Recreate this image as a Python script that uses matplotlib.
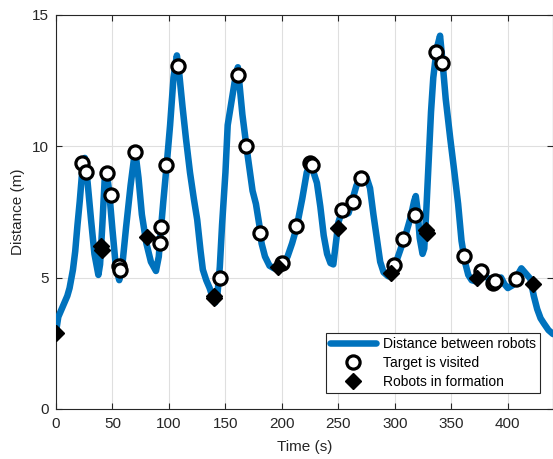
import numpy as np
import matplotlib
matplotlib.use('Agg')
import matplotlib.pyplot as plt

plt.rcParams['font.family'] = ['Liberation Sans', 'DejaVu Sans']

# distance between robots
t_dist = [0, 2, 5, 8, 10, 12, 15, 17, 19, 21, 23.5, 25.5, 28, 31, 34, 37.5,
          39, 41, 43.4, 45, 47, 50, 53, 56, 59, 62, 66, 70, 73, 76, 80, 84,
          88.5, 91, 92, 93, 95, 98, 101, 104, 107, 109, 112, 115, 118.6, 122,
          125, 128, 130, 133, 136, 139, 141, 143, 145, 147, 150, 152, 155,
          158, 161, 163, 165, 169, 174, 177, 180, 182, 185, 189, 193, 197,
          201, 205, 209, 213, 218, 222, 225, 228, 231, 234, 237, 240, 243,
          245.5, 247.5, 250, 253, 256, 259, 262, 266, 270, 275, 278, 281,
          284, 287, 290, 294, 298, 302, 306, 310, 314, 317, 318.5, 320, 322,
          324.5, 326, 328, 330, 332, 334, 337, 340, 342, 345, 349, 353, 356,
          359, 362, 365, 368, 372, 376, 380, 385, 390, 394, 397, 400, 404,
          408, 412, 416, 420, 423, 426, 429, 432, 436, 440]
d_dist = [2.93, 3.5, 3.8, 4.1, 4.3, 4.6, 5.3, 6.0, 7.0, 7.9, 9.2, 9.55, 8.6,
          7.2, 5.9, 5.1, 5.5, 7.0, 9.0, 8.95, 8.3, 6.8, 5.4, 4.9, 5.6, 6.9,
          8.5, 9.85, 8.8, 7.4, 6.3, 5.6, 5.25, 5.8, 6.4, 6.9, 7.9, 9.3, 10.8,
          12.6, 13.45, 12.8, 11.5, 10.3, 9.0, 8.0, 7.2, 6.0, 5.3, 4.9, 4.6,
          4.2, 4.05, 4.4, 5.4, 7.0, 9.0, 10.8, 11.6, 12.4, 13.0, 12.1, 11.2,
          9.85, 8.3, 7.8, 7.0, 6.3, 5.8, 5.45, 5.35, 5.35, 5.5, 5.8, 6.3, 6.9,
          8.0, 9.0, 9.35, 9.0, 8.6, 7.7, 6.6, 5.9, 5.55, 5.5, 6.2, 7.1, 7.5,
          7.4, 7.45, 7.9, 8.5, 8.8, 8.8, 8.4, 7.4, 6.5, 5.6, 5.2, 5.05, 5.3,
          5.7, 6.2, 6.7, 7.3, 7.9, 8.1, 7.6, 6.5, 5.9, 6.1, 7.7, 9.5, 11.3,
          12.6, 13.7, 14.2, 13.3, 11.8, 10.3, 8.9, 7.8, 6.4, 5.6, 5.1, 4.9,
          4.85, 5.05, 5.05, 4.9, 4.95, 5.0, 4.75, 4.6, 4.7, 5.05, 5.35, 5.15,
          4.95, 4.3, 3.8, 3.45, 3.25, 3.0, 2.85]

# targets visited
t_target = [23.1, 26.3, 45.3, 48.7, 55.8, 56.6, 70, 92, 93, 97.5, 108, 145.5,
            161, 168, 180.5, 200, 212.4, 224.8, 226.5, 253, 263, 270, 299,
            307, 317.7, 336, 342, 361, 376, 386.6, 389, 407]
d_target = [9.35, 9.0, 8.97, 8.14, 5.45, 5.3, 9.77, 6.3, 6.92, 9.28, 13.04,
            5.0, 12.7, 10.0, 6.7, 5.55, 6.96, 9.35, 9.3, 7.57, 7.87, 8.78,
            5.47, 6.46, 7.38, 13.57, 13.16, 5.82, 5.25, 4.79, 4.87, 4.94]

# robots in formation
t_form = [0, 39.8, 40.7, 80.5, 139.5, 140.3, 196.5, 249.6, 297, 327.5, 328.3,
          372.6, 422]
d_form = [2.9, 6.2, 6.05, 6.55, 4.3, 4.22, 5.4, 6.88, 5.17, 6.8, 6.7,
          4.98, 4.75]

fig = plt.figure(figsize=(5.53, 4.59), dpi=100)
ax = fig.add_axes([0.1013, 0.109, 0.8987, 0.859])

ax.plot(t_dist, d_dist, color='#0072BD', lw=4.7, solid_joinstyle='round',
        solid_capstyle='round', label='Distance between robots', zorder=3)
ax.plot(t_target, d_target, 'o', ms=9.5, mfc='white', mec='black', mew=2.3,
        label='Target is visited', zorder=4)
ax.plot(t_form, d_form, 'D', ms=8.5, color='black',
        label='Robots in formation', zorder=5)

ax.set_xlim(0, 440)
ax.set_ylim(0, 15)
ax.set_xticks(np.arange(0, 401, 50))
ax.set_yticks([0, 5, 10, 15])
ax.grid(True, color='#dfdfdf', lw=0.8)
ax.set_axisbelow(True)
ax.tick_params(direction='in', top=True, right=True, labelsize=11,
               colors='#262626', length=4)
ax.tick_params(axis='x', pad=5.5)
ax.tick_params(axis='y', pad=5)
for s in ax.spines.values():
    s.set_color('#262626')
ax.set_xlabel('Time (s)', fontsize=11, color='#262626', labelpad=7)
ax.set_ylabel('Distance (m)', fontsize=11, color='#262626', labelpad=5)

leg = ax.legend(loc='lower right', bbox_to_anchor=(0.974, 0.041), fontsize=10,
                fancybox=False, framealpha=1, edgecolor='#262626',
                handlelength=3.3, labelspacing=0.35, borderpad=0.3,
                handletextpad=0.5, borderaxespad=0)
leg.get_frame().set_linewidth(0.8)

fig.savefig('out.png', dpi=100)
